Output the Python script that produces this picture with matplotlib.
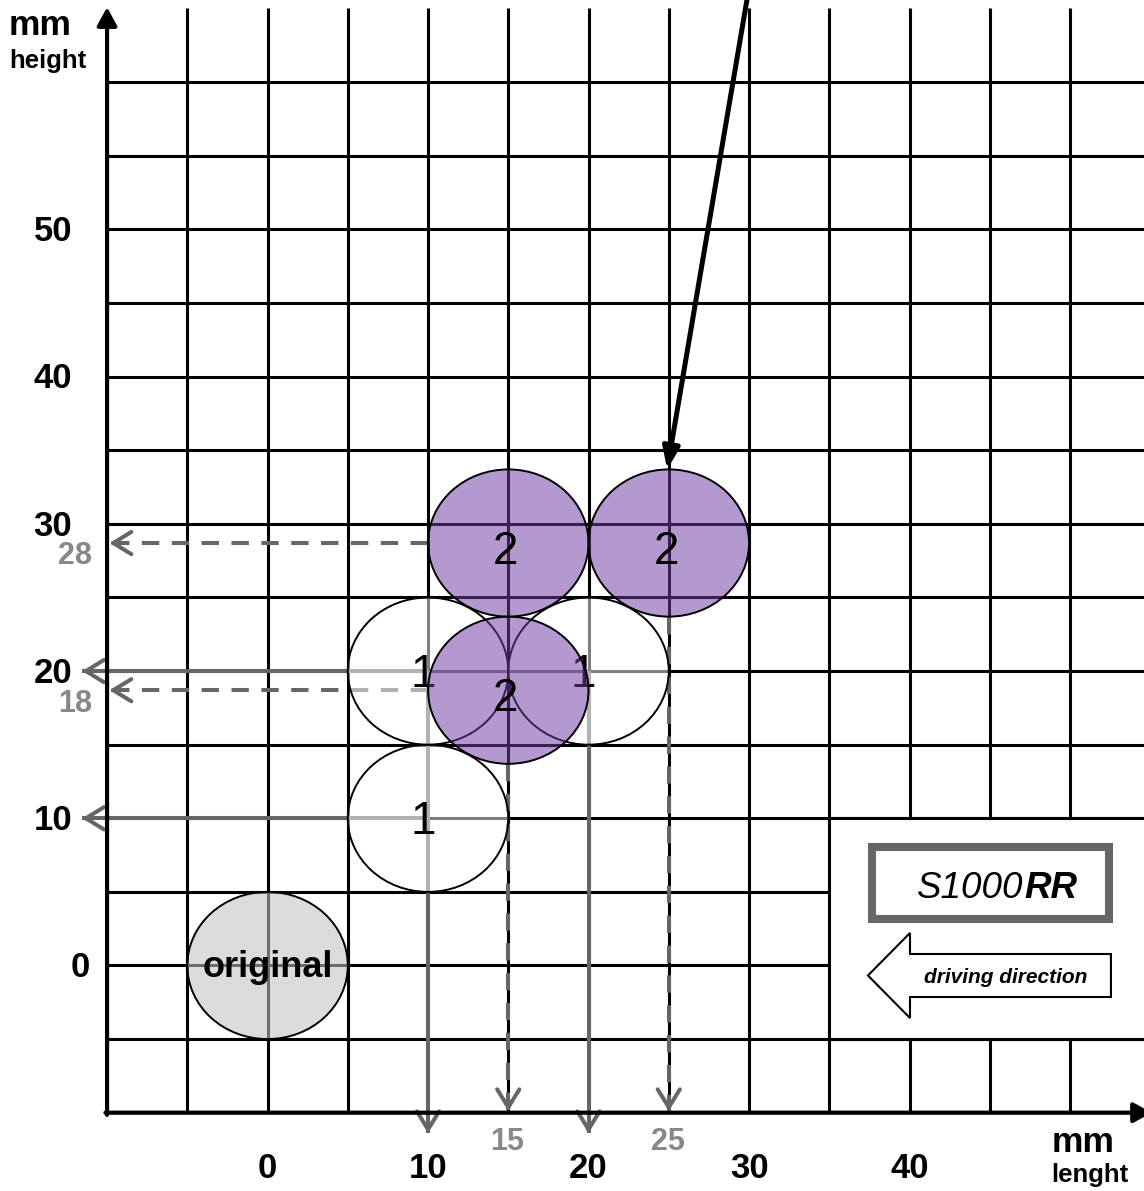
import matplotlib
matplotlib.use('Agg')
import matplotlib.pyplot as plt
from matplotlib.patches import Ellipse, Rectangle, Polygon, FancyArrowPatch

plt.rcParams['font.family'] = ['Liberation Sans', 'DejaVu Sans']
plt.rcParams['lines.scale_dashes'] = False

# ---------------- data ----------------
x_ticks = [0, 10, 20, 30, 40]
y_ticks = [0, 10, 20, 30, 40, 50]
grid_x = [-5, 0, 5, 10, 15, 20, 25, 30, 35, 40, 45, 50]
grid_y = [-5, 0, 5, 10, 15, 20, 25, 30, 35, 40, 45, 50, 55, 60]

orig_x = [0]
orig_y = [0]
step1_x = [10, 10, 20]
step1_y = [10, 20, 20]
step2_x = [15, 15, 25]
step2_y = [18.7, 28.7, 28.7]
radius = 5

ref_x_labels = [15, 25]
ref_y_labels = [18, 28]

# ---------------- figure ----------------
W, H = 1144, 1191
fig = plt.figure(figsize=(W / 100, H / 100), dpi=100)
ax = fig.add_axes([0, 0, 1, 1])
ax.set_xlim(-16.67, 54.61)
ax.set_ylim(-15.32, 65.59)
ax.axis('off')

GRID_LW = 2.2
GRAY = '#666666'
ARROW_LW = 2.9

# grid
for gx in grid_x:
    ax.plot([gx, gx], [-10, 65.05], color='black', lw=GRID_LW, zorder=1,
            solid_capstyle='butt')
for gy in grid_y:
    ax.plot([-10, 56], [gy, gy], color='black', lw=GRID_LW, zorder=1,
            solid_capstyle='butt')

# white panel bottom right
ax.add_patch(Rectangle((35, -5), 25, 15, fc='white', ec='none', zorder=1.5))
ax.plot([35, 35], [-5, 10], color='black', lw=GRID_LW, zorder=1.6, solid_capstyle='butt')
ax.plot([35, 56], [-5, -5], color='black', lw=GRID_LW, zorder=1.6, solid_capstyle='butt')
ax.plot([35, 56], [10, 10], color='black', lw=GRID_LW, zorder=1.6, solid_capstyle='butt')

# axes with arrows
ax.add_patch(FancyArrowPatch((-10, -10.15), (-10, 65.1),
                             arrowstyle='-|>,head_length=11,head_width=6',
                             mutation_scale=1, lw=3, color='black',
                             shrinkA=0, shrinkB=0, zorder=2.5))
ax.add_patch(FancyArrowPatch((-10.1, -10), (55.1, -10),
                             arrowstyle='-|>,head_length=11,head_width=6',
                             mutation_scale=1, lw=3, color='black',
                             shrinkA=0, shrinkB=0, zorder=2.5))


def gray_arrow(x0, y0, x1, y1, dashed=False):
    ls = (0, (12.5, 9)) if dashed else '-'
    ax.plot([x0, x1], [y0, y1], color=GRAY, lw=ARROW_LW, ls=ls, zorder=2,
            solid_capstyle='butt', dash_capstyle='butt')
    dx, dy = x1 - x0, y1 - y0
    n = (dx ** 2 + dy ** 2) ** 0.5
    sx, sy = x1 - dx / n * 0.4, y1 - dy / n * 0.4
    ax.add_patch(FancyArrowPatch((sx, sy), (x1, y1),
                                 arrowstyle='->,head_length=13,head_width=8',
                                 mutation_scale=1, lw=ARROW_LW, color=GRAY,
                                 shrinkA=0, shrinkB=0, zorder=2))


# solid projections of step-1 circles
gray_arrow(step1_x[0], step1_y[0], -11.56, step1_y[0])
gray_arrow(step1_x[1], step1_y[1], -11.56, step1_y[1])
gray_arrow(step1_x[1], step1_y[1], step1_x[1], -11.4)
gray_arrow(step1_x[2], step1_y[2], step1_x[2], -11.4)

# dashed projections of step-2 circles
gray_arrow(step2_x[1] - radius, step2_y[1], -9.85, step2_y[1], dashed=True)
gray_arrow(step2_x[0] - radius, step2_y[0], -9.85, step2_y[0], dashed=True)
gray_arrow(step2_x[0], step2_y[0] - radius, step2_x[0], -9.9, dashed=True)
gray_arrow(step2_x[2], step2_y[2] - radius, step2_x[2], -9.9, dashed=True)

# original circle
for cx, cy in zip(orig_x, orig_y):
    ax.add_patch(Ellipse((cx, cy), 2 * radius, 2 * radius,
                         fc=(0.765, 0.765, 0.765, 0.57), ec='black', lw=1.4, zorder=3))
    ax.text(cx, cy - 0.78, 'original', ha='center', va='baseline',
            fontsize=26, fontweight='bold', zorder=3.5)

# step 1 circles
for cx, cy in zip(step1_x, step1_y):
    ax.add_patch(Ellipse((cx, cy), 2 * radius, 2 * radius,
                         fc=(1, 1, 1, 0.5), ec='black', lw=1.4, zorder=3))
    ax.text(cx - 0.3, cy - 1.1, '1', ha='center', va='baseline',
            fontsize=33, zorder=3.5)

# step 2 circles
for cx, cy in zip(step2_x, step2_y):
    ax.add_patch(Ellipse((cx, cy), 2 * radius, 2 * radius,
                         fc=(0.435, 0.235, 0.639, 0.52), ec='black', lw=1.4, zorder=4))
    ax.text(cx - 0.15, cy - 1.4, '2', ha='center', va='baseline',
            fontsize=33, zorder=5)

# big black arrow pointing to the top right circle
ax.add_patch(FancyArrowPatch((30.4, 69.0), (step2_x[2] - 0.1, step2_y[2] + radius),
                             arrowstyle='-|>,head_length=13,head_width=5',
                             mutation_scale=1, lw=3.6, color='black',
                             shrinkA=0, shrinkB=0, zorder=6, clip_on=False))

# tick labels
for v in y_ticks:
    xr = -11.06 if v == 0 else -12.18
    ax.text(xr, v - 0.8, str(v), ha='right', va='baseline', fontsize=25,
            fontweight='bold', zorder=6)
for v in x_ticks:
    ax.text(v, -14.44, str(v), ha='center', va='baseline', fontsize=25,
            fontweight='bold', zorder=6)
for v in ref_x_labels:
    ax.text(v - 0.05, -12.53, str(v), ha='center', va='baseline', fontsize=22,
            fontweight='bold', color='#888888', zorder=6)
for v in ref_y_labels:
    ax.text(-12.0, v - 0.75, str(v), ha='center', va='baseline', fontsize=22,
            fontweight='bold', color='#888888', zorder=6)

# axis titles
ax.text(-14.17, 63.21, 'mm', ha='center', va='baseline', fontsize=25.5, fontweight='bold')
ax.text(-13.71, 60.97, 'height', ha='center', va='baseline', fontsize=18.5, fontweight='bold')
ax.text(50.84, -12.67, 'mm', ha='center', va='baseline', fontsize=25.5, fontweight='bold')
ax.text(51.21, -14.71, 'lenght', ha='center', va='baseline', fontsize=18.5, fontweight='bold')

# model box
ax.add_patch(Rectangle((37.66, 3.16), 14.77, 4.89, fc='white', ec=GRAY, lw=5.8, zorder=3))
ax.text(47.13, 4.59, 'S1000', ha='right', va='baseline', fontsize=26.5,
        fontstyle='italic', zorder=4)
ax.text(47.13, 4.59, 'RR', ha='left', va='baseline', fontsize=26.5,
        fontstyle='italic', fontweight='bold', zorder=4)

# driving direction block arrow
tip_x, head_x, end_x = 37.41, 40.03, 52.55
mid_y, head_h, shaft_h = -0.68, 2.89, 1.46
ax.add_patch(Polygon([(tip_x, mid_y), (head_x, mid_y + head_h), (head_x, mid_y + shaft_h),
                      (end_x, mid_y + shaft_h), (end_x, mid_y - shaft_h),
                      (head_x, mid_y - shaft_h), (head_x, mid_y - head_h)],
                     closed=True, fc='white', ec='black', lw=1.5, zorder=3))
ax.text(46.0, -1.19, 'driving direction', ha='center', va='baseline', fontsize=15,
        fontstyle='italic', fontweight='bold', zorder=4)

fig.savefig('out.png', dpi=100)
